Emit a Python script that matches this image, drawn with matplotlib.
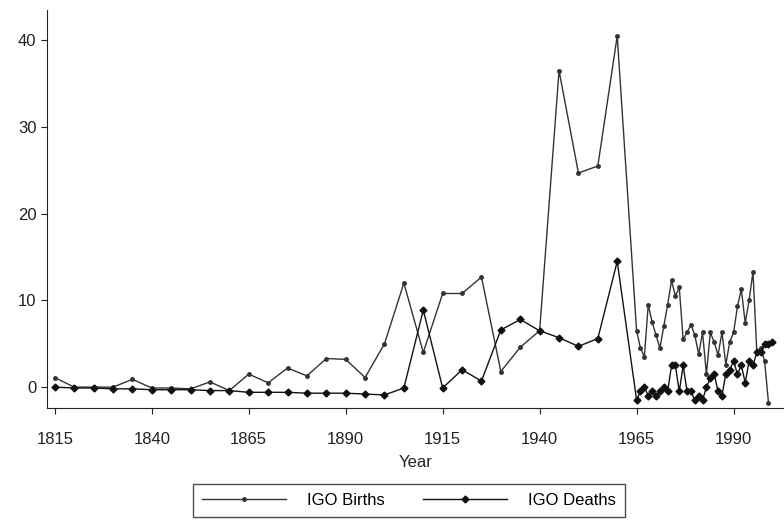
import numpy as np
import matplotlib
matplotlib.use("Agg")
import matplotlib.pyplot as plt

plt.rcParams['font.family'] = ['Liberation Sans', 'DejaVu Sans']

# five-year points 1815-1960
years_5 = list(range(1815, 1961, 5))
births_5 = [1.1, 0.0, 0.0, 0.0, 0.9, -0.1, -0.1, -0.2, 0.6, -0.4,
            1.5, 0.5, 2.2, 1.3, 3.3, 3.2, 1.1, 5.0, 12.0, 4.0,
            10.8, 10.8, 12.7, 1.8, 4.6, 6.5, 36.5, 24.7, 25.5, 40.5]
deaths_5 = [0.0, -0.1, -0.1, -0.2, -0.2, -0.3, -0.3, -0.3, -0.4, -0.4,
            -0.6, -0.6, -0.6, -0.7, -0.7, -0.7, -0.8, -0.9, -0.1, 8.9,
            -0.1, 2.0, 0.7, 6.6, 7.8, 6.5, 5.7, 4.7, 5.6, 14.5]

# yearly points from 1965
years_b = list(range(1965, 2000))
births_y = [6.5, 4.5, 3.5, 9.5, 7.5, 6.0, 4.5, 7.0, 9.5, 12.3,
            10.5, 11.5, 5.5, 6.3, 7.2, 6.0, 3.8, 6.3, 1.5, 6.3,
            5.2, 3.7, 6.3, 2.6, 5.2, 6.3, 9.3, 11.3, 7.4, 10.0,
            13.3, 4.0, 4.5, 3.0, -1.8]
years_d = list(range(1965, 2001))
deaths_y = [-1.5, -0.5, 0.0, -1.0, -0.5, -1.0, -0.5, 0.0, -0.5, 2.5,
            2.5, -0.5, 2.5, -0.5, -0.5, -1.5, -1.0, -1.5, 0.0, 1.0,
            1.5, -0.5, -1.0, 1.5, 2.0, 3.0, 1.5, 2.5, 0.5, 3.0,
            2.5, 4.0, 4.0, 5.0, 5.0, 5.2]

yb = years_5 + years_b
vb = births_5 + births_y
yd = years_5 + years_d
vd = deaths_5 + deaths_y

fig = plt.figure(figsize=(7.84, 5.25), dpi=100)
ax = fig.add_axes([0.060, 0.223, 0.94, 0.758])

ax.plot(yb, vb, color='#333333', lw=1.0, marker='o', ms=2.5,
        label='IGO Births')
ax.plot(yd, vd, color='#111111', lw=1.0, marker='D', ms=3.5,
        label='IGO Deaths')

ax.set_xlim(1813, 2003)
ax.set_ylim(-2.4, 43.5)
ax.set_xticks(range(1815, 1991, 25))
ax.set_yticks([0, 10, 20, 30, 40])
ax.tick_params(direction='out', length=4, labelsize=12, colors='#222222')
ax.tick_params(axis='x', pad=13)
for s in ['top', 'right']:
    ax.spines[s].set_visible(False)
for s in ['left', 'bottom']:
    ax.spines[s].set_color('#222222')
ax.set_xlabel('Year', fontsize=12, labelpad=6, color='#222222')

leg = fig.legend(loc='upper center', bbox_to_anchor=(0.522, 0.094), ncol=2,
                 fontsize=12, handlelength=5.0, handletextpad=1.3,
                 columnspacing=2.3, fancybox=False, frameon=True,
                 borderpad=0.55, edgecolor='#222222')
leg.get_frame().set_linewidth(1.0)

fig.savefig('out.png', dpi=100)
